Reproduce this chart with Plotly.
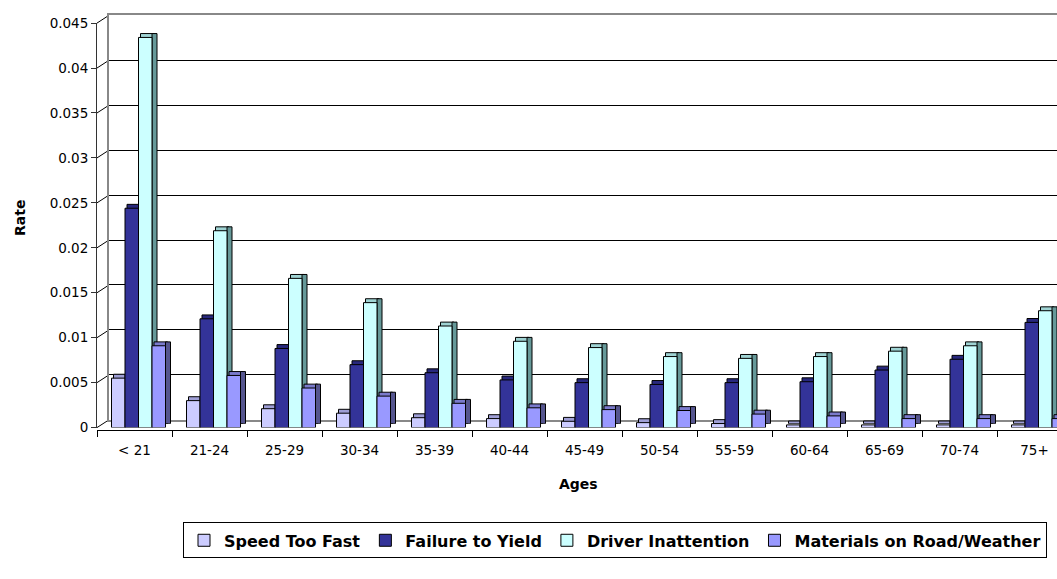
import plotly.graph_objects as go

# ---- data -------------------------------------------------------------
ages = ["< 21", "21-24", "25-29", "30-34", "35-39", "40-44", "45-49",
        "50-54", "55-59", "60-64", "65-69", "70-74", "75+"]

speed_too_fast = [0.0055, 0.0030, 0.0021, 0.0016, 0.0011, 0.0010, 0.0007,
                  0.00055, 0.00045, 0.0003, 0.0003, 0.0003, 0.0003]
failure_to_yield = [0.0244, 0.0121, 0.0088, 0.0070, 0.0061, 0.0053, 0.0050,
                    0.0048, 0.0050, 0.0051, 0.0064, 0.0076, 0.0117]
driver_inattention = [0.0434, 0.0219, 0.0166, 0.0139, 0.0113, 0.0096, 0.0089,
                      0.0079, 0.0077, 0.0079, 0.0085, 0.0091, 0.0130]
materials_weather = [0.0091, 0.0058, 0.0044, 0.0035, 0.0027, 0.0022, 0.0020,
                     0.0019, 0.0015, 0.0013, 0.0010, 0.0010, 0.0010]

series_names = ["Speed Too Fast", "Failure to Yield", "Driver Inattention",
                "Materials on Road/Weather"]
series_values = [speed_too_fast, failure_to_yield, driver_inattention,
                 materials_weather]

y_tick_vals = [0, 0.005, 0.01, 0.015, 0.02, 0.025, 0.03, 0.035, 0.04, 0.045]
y_tick_text = ["0", "0.005", "0.01", "0.015", "0.02", "0.025", "0.03",
               "0.035", "0.04", "0.045"]

# ---- styling ----------------------------------------------------------
W, H = 1057, 579
FONT = "DejaVu Sans"
front_colors = ["#ccccff", "#333399", "#ccffff", "#9999ff"]
top_colors = ["#9f9fd6", "#28287d", "#9fd3d3", "#7a7acc"]
side_colors = ["#6b6b99", "#1c1c55", "#669999", "#55558f"]

Y_MAX = 0.045
X_LEFT_PX = 97          # front value axis
ZERO_PX = 433.5         # front floor edge
TOP_PX = 17.5           # top of the value scale at the floor edge
CAT_PX = 75             # width of one category
WALL_DX, WALL_DY = 12, 10    # depth of the back wall
BAR_DY = 2                   # bars stand just behind the floor edge
DEPTH_DX, DEPTH_DY = 5, 4    # bar depth faces
BAR_W_PX = 13.5
CLUSTER_SHIFT_PX = 4


def yp(px):
    """Pixel row (from the top) to paper fraction."""
    return (H - px) / H


def y_domain(shift_up):
    return [yp(ZERO_PX - shift_up), yp(TOP_PX - shift_up)]


x_range = [-0.5, -0.5 + (W - X_LEFT_PX) / CAT_PX]
bar_dom = y_domain(BAR_DY)

fig = go.Figure()

# back wall subplot (grid only)
fig.add_trace(go.Scatter(x=[], y=[], xaxis="x2", yaxis="y2",
                         showlegend=False, hoverinfo="skip"))

w = BAR_W_PX / CAT_PX
shift = CLUSTER_SHIFT_PX / CAT_PX

# depth faces (top and right side) of every bar
for i, vals in enumerate(series_values):
    off = -2 * w + i * w + shift
    fig.add_trace(go.Bar(
        x=ages, y=vals, xaxis="x3", yaxis="y3",
        width=w, offset=off + 2 / CAT_PX,
        marker=dict(color=top_colors[i], line=dict(color="#000", width=1)),
        showlegend=False, hoverinfo="skip"))
    fig.add_trace(go.Bar(
        x=ages, y=vals, xaxis="x3", yaxis="y3",
        width=DEPTH_DX / CAT_PX, offset=off + w,
        marker=dict(color=side_colors[i], line=dict(color="#000", width=1)),
        showlegend=False, hoverinfo="skip"))

# front faces, on the labelled axes
for i, vals in enumerate(series_values):
    off = -2 * w + i * w + shift
    fig.add_trace(go.Bar(
        x=ages, y=vals, xaxis="x4", yaxis="y4", name=series_names[i],
        width=w, offset=off,
        marker=dict(color=front_colors[i], line=dict(color="#000", width=1))))

hidden_x = dict(type="category", categoryarray=ages, range=x_range,
                domain=[X_LEFT_PX / W, 1], showgrid=False, showline=False,
                zeroline=False, showticklabels=False, ticks="")
hidden_y = dict(range=[0, Y_MAX], showgrid=False, showline=False,
                zeroline=False, showticklabels=False, ticks="")

tick_font = dict(family=FONT, size=13.5, color="#000")

fig.update_layout(
    width=W, height=H,
    margin=dict(l=0, r=0, t=0, b=0),
    paper_bgcolor="white", plot_bgcolor="rgba(0,0,0,0)",
    barmode="overlay",
    font=dict(family=FONT, color="#000"),
    xaxis2=dict(hidden_x, domain=[(X_LEFT_PX + WALL_DX) / W, 1], anchor="y2",
                showline=True, mirror=True, linecolor="#888", linewidth=2),
    yaxis2=dict(hidden_y, domain=y_domain(WALL_DY), anchor="x2",
                showgrid=True, gridcolor="#000", gridwidth=1,
                tickvals=y_tick_vals, showline=True, linecolor="#888",
                linewidth=2),
    xaxis3=dict(hidden_x, anchor="y3"),
    yaxis3=dict(hidden_y, domain=y_domain(BAR_DY + DEPTH_DY), anchor="x3"),
    xaxis4=dict(type="category", categoryarray=ages, range=x_range,
                domain=[X_LEFT_PX / W, 1], anchor="free",
                position=yp(ZERO_PX),
                showline=True, linecolor="#000", linewidth=1,
                ticks="outside", tickson="boundaries", ticklen=6,
                tickcolor="#000", showgrid=False, zeroline=False,
                showticklabels=True, tickfont=tick_font,
                ticklabelstandoff=8),
    yaxis4=dict(range=[0, Y_MAX], domain=bar_dom, anchor="x4",
                tickmode="array", tickvals=y_tick_vals, ticktext=y_tick_text,
                showline=True, linecolor="#333", linewidth=1,
                ticks="outside", ticklen=5, tickcolor="#333",
                showgrid=False, zeroline=False, showticklabels=True,
                tickfont=tick_font),
    legend=dict(orientation="h", x=615 / W, xanchor="center",
                y=yp(547.5), yanchor="middle",
                bordercolor="#000", borderwidth=1, bgcolor="white",
                font=dict(family=FONT, size=16, color="#000", weight="bold"),
                itemwidth=30, tracegroupgap=0),
)

# perspective connectors between the front axis ticks and the back wall
dom_h = bar_dom[1] - bar_dom[0]
for v in y_tick_vals:
    y0 = bar_dom[0] + v / Y_MAX * dom_h
    fig.add_shape(type="line", xref="paper", yref="paper",
                  x0=X_LEFT_PX / W, y0=y0,
                  x1=(X_LEFT_PX + WALL_DX) / W,
                  y1=y0 + (WALL_DY - BAR_DY) / H,
                  line=dict(color="#000", width=1), layer="below")

fig.add_annotation(text="<b>Rate</b>", xref="paper", yref="paper",
                   x=20 / W, y=yp(216), xanchor="center", yanchor="middle",
                   textangle=-90, showarrow=False,
                   font=dict(family=FONT, size=14, color="#000"))
fig.add_annotation(text="<b>Ages</b>", xref="paper", yref="paper",
                   x=578 / W, y=yp(490), xanchor="center", yanchor="middle",
                   showarrow=False,
                   font=dict(family=FONT, size=14, color="#000"))

fig.write_html("out.html")
